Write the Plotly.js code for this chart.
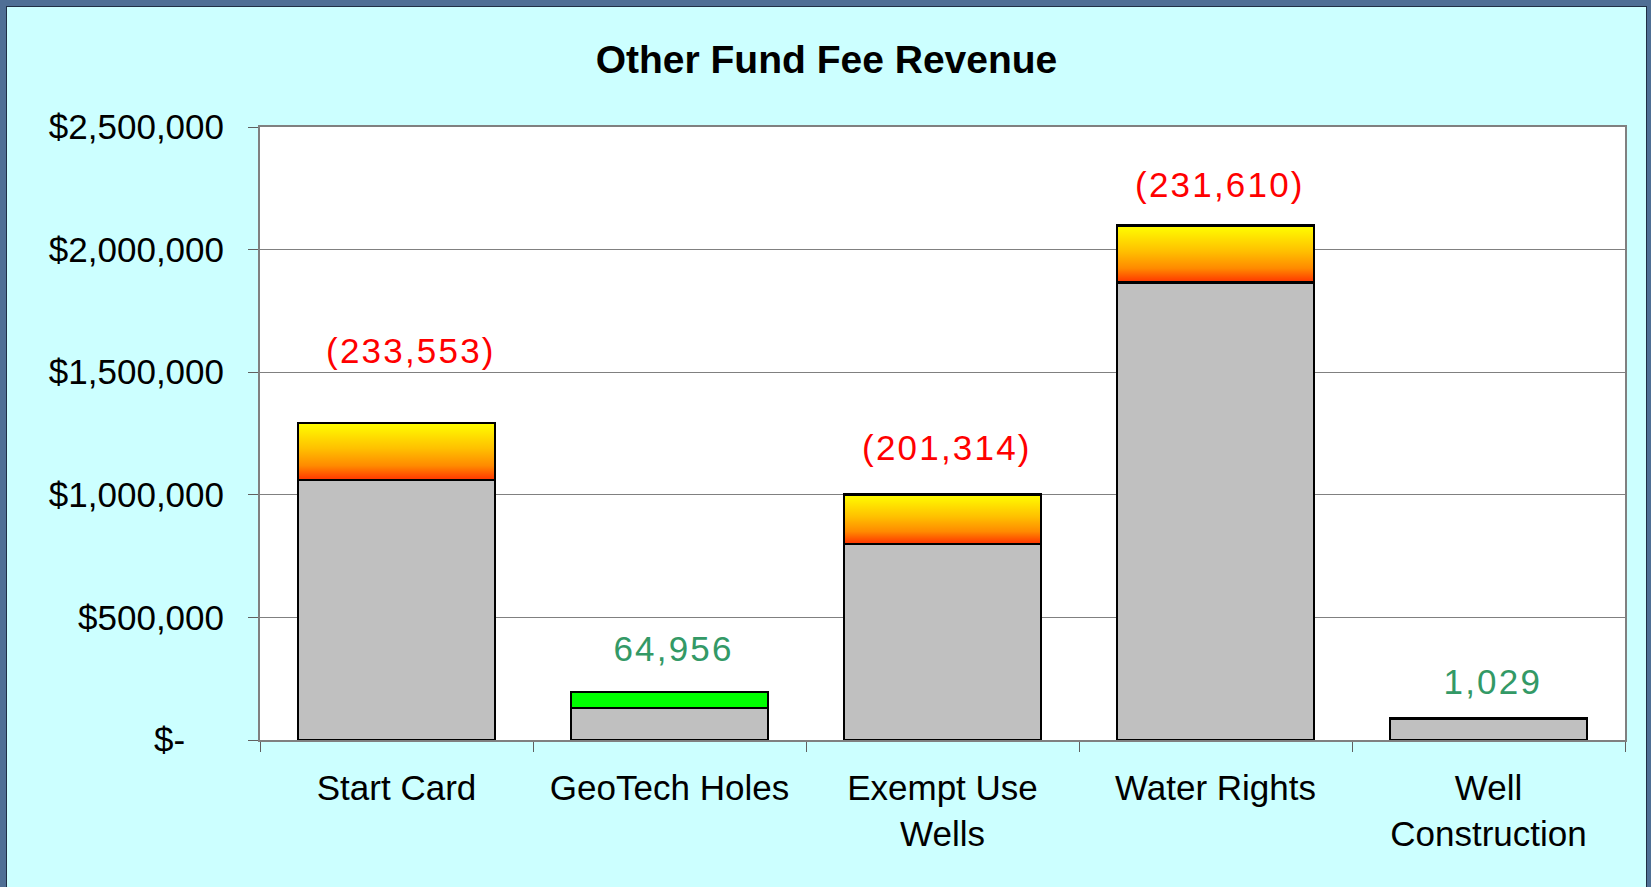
<!DOCTYPE html>
<html>
<head>
<meta charset="utf-8">
<script src="https://cdn.plot.ly/plotly-3.0.1.min.js"></script>
<style>
  html, body { margin: 0; padding: 0; }
  body { width: 1651px; height: 887px; background: #4f6f95; position: relative; overflow: hidden; }
  #chart { position: absolute; left: 7px; top: 7px; width: 1639px; height: 880px; box-shadow: 0 0 0 1px #1f2f45; }
</style>
</head>
<body>
<div id="chart"></div>
<script>
// ---- data ----
const categories = ["Start Card", "GeoTech Holes", "Exempt Use Wells", "Water Rights", "Well Construction"];
const categoryLabels = ["Start Card", "GeoTech Holes", "Exempt Use<br>Wells", "Water Rights", "Well<br>Construction"];
const baseValues = [1060000, 130000, 800000, 1866000, 86000];
const changeValues = [-233553, 64956, -201314, -231610, 1029];
const yTickValues = [0, 500000, 1000000, 1500000, 2000000, 2500000];
const yTickLabels = ["$-\u00A0\u00A0\u00A0\u00A0", "$500,000", "$1,000,000", "$1,500,000", "$2,000,000", "$2,500,000"];

// ---- styling (not data) ----
const labelLift = { "Start Card": 72, "GeoTech Holes": 44, "Exempt Use Wells": 47, "Water Rights": 41, "Well Construction": 37 };
const labelNudge = { "Start Card": 14 };
const defaultNudge = 4;
const FONT = "Liberation Sans, Arial, sans-serif";

const decreases = changeValues.map(v => v < 0 ? -v : 0);
const increases = changeValues.map(v => v > 0 ? v : 0);
const totals = baseValues.map((b, i) => b + Math.abs(changeValues[i]));

function fmt(v) {
  const s = Math.abs(v).toLocaleString("en-US");
  return v < 0 ? "(" + s + ")" : s;
}

const outline = { color: "#000000", width: 2.5 };
const traces = [
  { type: "bar", x: categories, y: baseValues, marker: { color: "#C0C0C0", line: outline }, hoverinfo: "skip" },
  { type: "bar", x: categories, y: decreases, marker: { color: "#FF9900", line: outline }, hoverinfo: "skip" },
  { type: "bar", x: categories, y: increases, marker: { color: "#00FF00", line: outline }, hoverinfo: "skip" }
];

const annotations = categories.map((c, i) => ({
  x: c, y: totals[i], xref: "x", yref: "y",
  text: fmt(changeValues[i]), showarrow: false,
  yanchor: "middle", yshift: labelLift[c],
  xshift: (labelNudge[c] !== undefined ? labelNudge[c] : defaultNudge),
  font: { family: FONT, size: 35, color: changeValues[i] < 0 ? "#FF0000" : "#339966" }
}));

const layout = {
  width: 1639, height: 880,
  paper_bgcolor: "#CCFFFF", plot_bgcolor: "#FFFFFF",
  margin: { l: 253, r: 21, t: 120, b: 147 },
  showlegend: false,
  barmode: "stack", bargap: 0.28,
  title: {
    text: "<b>Other Fund Fee Revenue</b>",
    font: { family: FONT, size: 39, color: "#000000" },
    x: 0.5, xref: "container", xanchor: "center",
    y: 1 - 52 / 880, yref: "container", yanchor: "middle"
  },
  xaxis: {
    type: "category", tickvals: categories, ticktext: categoryLabels,
    tickfont: { family: FONT, size: 35, color: "#000000" },
    ticks: "outside", tickson: "boundaries", ticklen: 10, tickcolor: "#606060", tickwidth: 1,
    showline: true, linecolor: "#808080", linewidth: 2, mirror: true,
    showgrid: false, ticklabelstandoff: 16, automargin: false
  },
  yaxis: {
    range: [0, 2500000], tickvals: yTickValues, ticktext: yTickLabels,
    tickfont: { family: FONT, size: 35, color: "#000000" },
    ticks: "outside", ticklen: 10, tickcolor: "#606060", tickwidth: 1,
    showline: true, linecolor: "#808080", linewidth: 2, mirror: true,
    showgrid: true, gridcolor: "#808080", gridwidth: 1, zeroline: false,
    ticklabelstandoff: 17, automargin: false
  },
  annotations: annotations
};

function applyGradient(gd) {
  const svg = gd.querySelector("svg.main-svg");
  if (!svg) return;
  const NS = "http://www.w3.org/2000/svg";
  let defs = svg.querySelector("defs");
  if (!defs) { defs = document.createElementNS(NS, "defs"); svg.insertBefore(defs, svg.firstChild); }
  if (!defs.querySelector("#decGrad")) {
    const g = document.createElementNS(NS, "linearGradient");
    g.setAttribute("id", "decGrad");
    g.setAttribute("x1", "0"); g.setAttribute("y1", "0");
    g.setAttribute("x2", "0"); g.setAttribute("y2", "1");
    [["0", "#FFFF00"], ["0.45", "#FFC000"], ["0.75", "#FF8A00"], ["1", "#FF3300"]].forEach(([o, c]) => {
      const s = document.createElementNS(NS, "stop");
      s.setAttribute("offset", o); s.setAttribute("stop-color", c);
      g.appendChild(s);
    });
    defs.appendChild(g);
  }
  const barTraces = gd.querySelectorAll(".barlayer .trace");
  if (barTraces[1]) {
    barTraces[1].querySelectorAll("path").forEach(p => { p.style.fill = "url(#decGrad)"; });
  }
  gd.querySelectorAll(".annotation-text").forEach(t => { t.style.letterSpacing = "2.2px"; });
}

const gd = document.getElementById("chart");
Plotly.newPlot(gd, traces, layout, { displayModeBar: false, staticPlot: true }).then(() => {
  applyGradient(gd);
  gd.on("plotly_afterplot", () => applyGradient(gd));
});
</script>
</body>
</html>
